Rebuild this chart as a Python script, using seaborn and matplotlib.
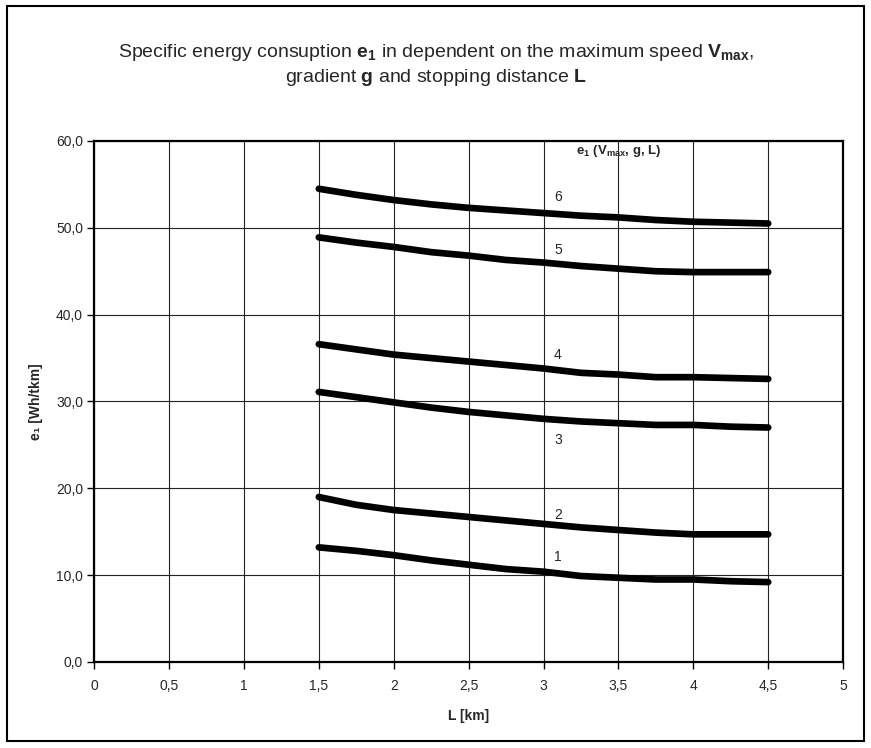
import matplotlib
matplotlib.use("Agg")
import matplotlib.pyplot as plt
from matplotlib.patches import Rectangle
import numpy as np
import pandas as pd
import seaborn as sns


OUT_PATH = "out.png"

# stopping distance L [km]
L_KM = [1.5, 1.75, 2.0, 2.25, 2.5, 2.75, 3.0, 3.25, 3.5, 3.75, 4.0, 4.25, 4.5]

# specific energy consumption e1 [Wh/tkm], one list per curve
E1_CURVE_1 = [13.2, 12.8, 12.3, 11.7, 11.2, 10.7, 10.4, 9.9, 9.7, 9.5, 9.5, 9.3, 9.2]
E1_CURVE_2 = [19.0, 18.1, 17.5, 17.1, 16.7, 16.3, 15.9, 15.5, 15.2, 14.9, 14.7, 14.7, 14.7]
E1_CURVE_3 = [31.1, 30.5, 29.9, 29.3, 28.8, 28.4, 28.0, 27.7, 27.5, 27.3, 27.3, 27.1, 27.0]
E1_CURVE_4 = [36.6, 36.0, 35.4, 35.0, 34.6, 34.2, 33.8, 33.3, 33.1, 32.8, 32.8, 32.7, 32.6]
E1_CURVE_5 = [48.9, 48.3, 47.8, 47.2, 46.8, 46.3, 46.0, 45.6, 45.3, 45.0, 44.9, 44.9, 44.9]
E1_CURVE_6 = [54.5, 53.8, 53.2, 52.7, 52.3, 52.0, 51.7, 51.4, 51.2, 50.9, 50.7, 50.6, 50.5]

CURVE_NAMES = ["1", "2", "3", "4", "5", "6"]

X_TICKS = [0, 0.5, 1, 1.5, 2, 2.5, 3, 3.5, 4, 4.5, 5]
X_TICK_LABELS = ["0", "0,5", "1", "1,5", "2", "2,5", "3", "3,5", "4", "4,5", "5"]
Y_TICKS = [0, 10, 20, 30, 40, 50, 60]
Y_TICK_LABELS = ["0,0", "10,0", "20,0", "30,0", "40,0", "50,0", "60,0"]

# where the curve numbers sit (x, y in data units)
LABEL_POS = [(3.07, 12.1), (3.07, 16.9), (3.07, 25.6), (3.07, 35.3), (3.07, 47.5), (3.07, 53.6)]

SANS = ["Liberation Sans", "DejaVu Sans"]


def build_frame():
    curves = [E1_CURVE_1, E1_CURVE_2, E1_CURVE_3, E1_CURVE_4, E1_CURVE_5, E1_CURVE_6]
    rows = []
    for name, values in zip(CURVE_NAMES, curves):
        for x, y in zip(L_KM, values):
            rows.append({"L": x, "e1": y, "curve": name})
    return pd.DataFrame(rows)


def main():
    sns.set_style("white")
    plt.rcParams["font.family"] = SANS
    plt.rcParams["mathtext.fontset"] = "custom"
    plt.rcParams["mathtext.rm"] = "Liberation Sans"
    plt.rcParams["mathtext.bf"] = "Liberation Sans:bold"

    df = build_frame()

    fig = plt.figure(figsize=(8.71, 7.48), dpi=100)
    ax = fig.add_axes([0.108, 0.115, 0.860, 0.6965])

    ax.grid(True, color="#222222", linewidth=0.8)
    ax.set_axisbelow(True)

    sns.lineplot(
        data=df,
        x="L",
        y="e1",
        hue="curve",
        palette=["black"] * len(CURVE_NAMES),
        linewidth=4.8,
        legend=False,
        ax=ax,
    )
    for line in ax.get_lines():
        line.set_solid_capstyle("round")
        line.set_solid_joinstyle("round")

    for name, (x, y) in zip(CURVE_NAMES, LABEL_POS):
        ax.text(x, y, name, fontsize=10, ha="left", va="center")

    ax.text(3.5, 58.8, r"$\mathbf{e}_\mathbf{1}$ ($\mathbf{V}_{\mathbf{max}}$, g, L)",
            fontsize=9.5, fontweight="bold", ha="center", va="center")

    ax.set_xlim(0, 5)
    ax.set_ylim(0, 60)
    ax.set_xticks(X_TICKS)
    ax.set_xticklabels(X_TICK_LABELS)
    ax.set_yticks(Y_TICKS)
    ax.set_yticklabels(Y_TICK_LABELS)
    ax.tick_params(axis="both", direction="out", length=5, width=1, color="black",
                   labelsize=10, bottom=True, left=True)
    ax.tick_params(axis="y", pad=3)
    ax.tick_params(axis="x", pad=7)

    ax.set_xlabel("L [km]", fontsize=10, fontweight="bold", labelpad=12)
    ax.set_ylabel("e\u2081 [Wh/tkm]", fontsize=10, fontweight="bold", labelpad=9)

    for side in ["left", "bottom", "top", "right"]:
        ax.spines[side].set_visible(True)
        ax.spines[side].set_color("black")
        ax.spines[side].set_linewidth(1.6)

    fig.text(0.5, 0.930,
             r"Specific energy consuption $\mathbf{e}_\mathbf{1}$ in dependent on the maximum speed "
             r"$\mathbf{V}_{\mathbf{max}}$,",
             ha="center", va="center", fontsize=14)
    fig.text(0.5, 0.897, r"gradient $\mathbf{g}$ and stopping distance $\mathbf{L}$",
             ha="center", va="center", fontsize=14)

    fig.patches.append(Rectangle((0.008, 0.01), 0.984, 0.982, transform=fig.transFigure,
                                 fill=False, edgecolor="black", linewidth=1.5))

    fig.savefig(OUT_PATH, dpi=100)
    plt.close(fig)


if __name__ == "__main__":
    main()
